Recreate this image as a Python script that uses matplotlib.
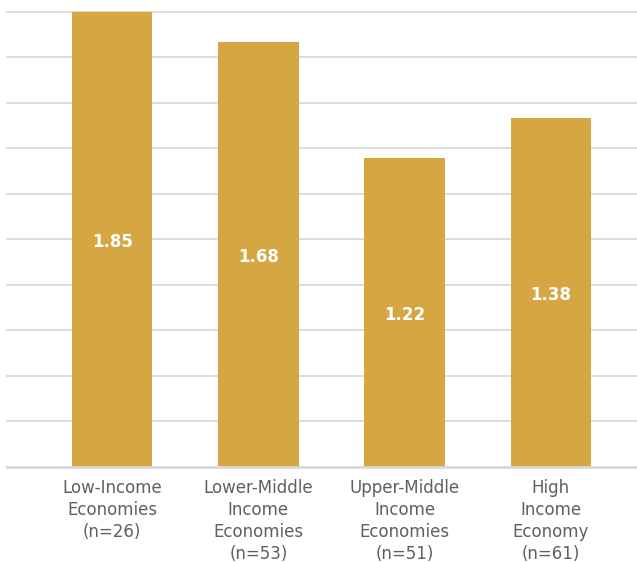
import matplotlib
matplotlib.use("Agg")
import matplotlib.pyplot as plt
import numpy as np

# income groups and their mean values
categories = ["Low-Income\nEconomies\n(n=26)",
              "Lower-Middle\nIncome\nEconomies\n(n=53)",
              "Upper-Middle\nIncome\nEconomies\n(n=51)",
              "High\nIncome\nEconomy\n(n=61)"]
values = [1.85, 1.68, 1.22, 1.38]

Y_MAX = 1.8
BAR_COLOR = "#D5A641"
GRID_COLOR = "#D9D9D9"

fig = plt.figure(figsize=(6.37, 5.62), dpi=100)
ax = fig.add_axes([0.011, 0.1696, 0.989, 0.8096])

x = np.arange(len(categories))
ax.bar(x, values, width=0.55, color=BAR_COLOR, zorder=2)

# value labels in the middle of the visible bar
for xi, v in zip(x, values):
    ax.text(xi, min(v, Y_MAX) / 2 - 0.01, f"{v:.2f}", ha="center", va="center",
            color="white", fontsize=12, fontweight="bold", zorder=3)

ax.set_ylim(0, Y_MAX)
ax.set_xlim(-0.72, 3.59)
ax.set_yticks(np.linspace(0, Y_MAX, 11))
ax.yaxis.grid(True, color=GRID_COLOR, linewidth=1.3, zorder=0)
for line in ax.get_ygridlines():
    line.set_clip_on(False)
ax.tick_params(axis="y", length=0, labelleft=False)
ax.tick_params(axis="x", length=0, pad=9)
ax.set_xticks(x)
ax.set_xticklabels(categories, color="#5f5f5f", fontsize=12, linespacing=1.28)

for side in ["top", "right", "left"]:
    ax.spines[side].set_visible(False)
ax.spines["bottom"].set_color(GRID_COLOR)
ax.spines["bottom"].set_linewidth(2)

fig.savefig("out.png", dpi=100)
